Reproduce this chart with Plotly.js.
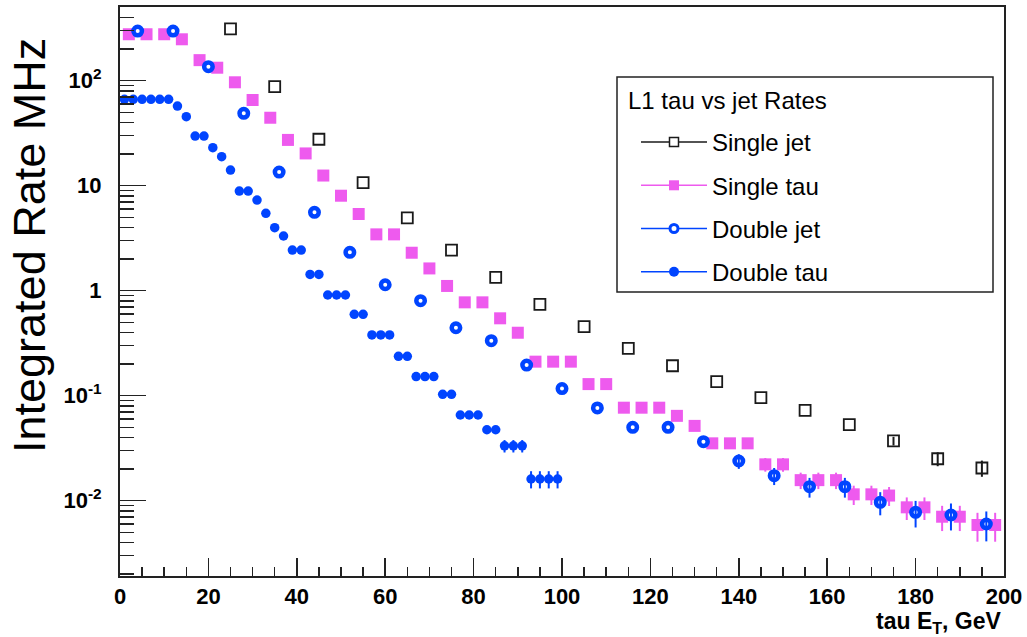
<!DOCTYPE html>
<html>
<head>
<meta charset="utf-8">
<script src="https://cdn.plot.ly/plotly-3.0.1.min.js"></script>
<style>html,body{margin:0;padding:0;background:#fff;}#chart{width:1027px;height:637px;}</style>
</head>
<body>
<div id="chart"></div>
<script>
// ---- data ----
const singleJetX = [25,35,45,55,65,75,85,95,105,115,125,135,145,155,165,175,185,195];
const singleJetY = [311,87.7,27.7,10.7,4.95,2.44,1.34,0.742,0.454,0.283,0.193,0.136,0.0957,0.0726,0.053,0.0371,0.0251,0.0205];
const singleJetErr = [0,0,0,0,0,0,0,0,0,0,0,0,0,0,0,0.0035,0.0038,0.0036];

const singleTauX = [2,6,10,14,18,22,26,30,34,38,42,46,50,54,58,62,66,70,74,78,82,86,90,94,98,102,106,110,114,118,122,126,130,134,138,142,146,150,154,158,162,166,170,174,178,182,186,190,194,198];
const singleTauY = [277,277,277,248,157,133,96.6,65.5,44.4,27.3,20.3,12.5,8.03,5.38,3.44,3.44,2.3,1.63,1.11,0.775,0.775,0.546,0.398,0.211,0.211,0.211,0.129,0.129,0.0769,0.0769,0.0769,0.0643,0.0516,0.0352,0.0352,0.0352,0.0222,0.0222,0.0157,0.0157,0.0157,0.0115,0.0115,0.0112,0.00865,0.00865,0.00704,0.00704,0.00587,0.00587];
const singleTauErr = [0,0,0,0,0,0,0,0,0,0,0,0,0,0,0,0,0,0,0,0,0,0,0,0,0,0,0,0,0,0,0,0,0,0,0,0,0.0033,0.0033,0.0028,0.0028,0.0028,0.0024,0.0024,0.0023,0.0021,0.0021,0.0019,0.0019,0.0018,0.0018];

const doubleJetX = [4,12,20,28,36,44,52,60,68,76,84,92,100,108,116,124,132,140,148,156,164,172,180,188,196];
const doubleJetY = [297,297,136,48.9,13.5,5.58,2.32,1.14,0.803,0.444,0.334,0.196,0.117,0.0765,0.05,0.05,0.0365,0.0239,0.0173,0.0136,0.0136,0.00966,0.00776,0.00731,0.006];
const doubleJetErr = [0,0,0,0,0,0,0,0,0,0,0,0,0,0,0,0,0,0.0038,0.0032,0.0029,0.0029,0.0024,0.0022,0.0021,0.0019];

const doubleTauX = [1,3,5,7,9,11,13,15,17,19,21,23,25,27,29,31,33,35,37,39,41,43,45,47,49,51,53,55,57,59,61,63,65,67,69,71,73,75,77,79,81,83,85,87,89,91,93,95,97,99];
const doubleTauY = [66.5,66.5,66.5,66.5,66.5,66.5,57.4,45.4,29.7,29.7,23.0,18.9,14.1,8.9,8.9,7.3,5.46,3.98,3.32,2.44,2.44,1.43,1.43,0.91,0.91,0.91,0.596,0.596,0.379,0.379,0.379,0.237,0.237,0.152,0.152,0.152,0.103,0.103,0.0655,0.0655,0.0655,0.0474,0.0474,0.0333,0.0333,0.0333,0.0161,0.0161,0.0161,0.0161];
const doubleTauErr = [0,0,0,0,0,0,0,0,0,0,0,0,0,0,0,0,0,0,0,0,0,0,0,0,0,0,0,0,0,0,0,0,0,0,0,0,0,0,0,0,0,0,0,0.0045,0.0045,0.0045,0.003,0.003,0.003,0.003];

const seriesNames = ['Single jet','Single tau','Double jet','Double tau'];
const legendTitle = 'L1 tau vs jet Rates';
const xTickVals = [0,20,40,60,80,100,120,140,160,180,200];
const yTickVals = [0.01,0.1,1,10,100];
const yTickText = ['10<sup>-2</sup>','10<sup>-1</sup>','1','10','10<sup>2</sup>'];
const yTitle = 'Integrated Rate MHz';
const xTitle = 'tau E<sub>T</sub>, GeV';

// ---- styles ----
const FONT = 'Liberation Sans, Arial, Helvetica, sans-serif';
const BLACK = '#1a1a1a';
const PINK = '#ee5aee';
const BLUE = '#0044ff';

const styles = [
  {color: BLACK, symbol: 'square-open', size: 11, lw: 1.8},
  {color: PINK, symbol: 'square', size: 12, lw: 0},
  {color: BLUE, symbol: 'circle-open', size: 8.5, lw: 4.5},
  {color: BLUE, symbol: 'circle', size: 9.5, lw: 0}
];
const xs = [singleJetX, singleTauX, doubleJetX, doubleTauX];
const ys = [singleJetY, singleTauY, doubleJetY, doubleTauY];
const es = [singleJetErr, singleTauErr, doubleJetErr, doubleTauErr];

const traces = [];
// draw order: single tau first, then single jet, double jet, double tau
[1,0,2,3].forEach(i => {
  const s = styles[i];
  traces.push({
    type: 'scatter', mode: 'markers', x: xs[i], y: ys[i], showlegend: false,
    name: seriesNames[i],
    marker: {color: s.color, symbol: s.symbol, size: s.size,
             line: {color: s.color, width: s.lw}},
    error_y: {type: 'data', array: es[i], visible: true, width: 0, thickness: 2, color: s.color},
    cliponaxis: true
  });
});
// legend entries (line + marker, as in the original legend)
const legendMarker = [
  {symbol: 'square', color: '#ffffff', size: 9, lc: BLACK, lw: 1.5},
  {symbol: 'square', color: PINK, size: 10, lc: PINK, lw: 0},
  {symbol: 'circle', color: '#ffffff', size: 8, lc: BLUE, lw: 3},
  {symbol: 'circle', color: BLUE, size: 10, lc: BLUE, lw: 0}
];
seriesNames.forEach((n, i) => {
  const s = styles[i], m = legendMarker[i];
  traces.push({
    type: 'scatter', mode: 'lines+markers', x: [null], y: [null], name: n,
    legendgroup: 'g' + i, showlegend: true,
    line: {color: s.color, width: 1.5},
    marker: {color: m.color, symbol: m.symbol, size: m.size, line: {color: m.lc, width: m.lw}}
  });
});

// minor y tick positions (2..9 per decade)
const minorY = [];
for (let d = -3; d <= 2; d++) for (let k = 2; k <= 9; k++) minorY.push(k * Math.pow(10, d));

// pixel helpers for placing the legend/title boxes (plot area 120..1004 x 7..576)
const PL = 120, PR = 1004, PT = 7, PB = 576;
const px2x = p => (p - PL) / (PR - PL);
const px2y = p => (PB - p) / (PB - PT);

const layout = {
  width: 1027, height: 637,
  margin: {l: 120, r: 23, t: 7, b: 61},
  paper_bgcolor: '#ffffff', plot_bgcolor: '#ffffff',
  font: {family: FONT, color: '#000'},
  showlegend: true,
  xaxis: {
    range: [0, 200], tickvals: xTickVals, ticks: 'inside', ticklen: 18, tickwidth: 1.5, tickcolor: '#222',
    showline: true, mirror: true, linewidth: 2, linecolor: '#222', showgrid: false, zeroline: false,
    tickfont: {family: FONT, size: 22, weight: 'bold', color: '#000'},
    minor: {dtick: 5, ticks: 'inside', ticklen: 9, tickwidth: 1.5, tickcolor: '#222', showgrid: false}
  },
  yaxis: {
    type: 'log', range: [-2.717, 2.702], tickvals: yTickVals, ticktext: yTickText,
    ticks: 'inside', ticklen: 26, tickwidth: 1.5, tickcolor: '#222',
    showline: true, mirror: true, linewidth: 2, linecolor: '#222', showgrid: false, zeroline: false,
    tickfont: {family: FONT, size: 22, weight: 'bold', color: '#000'}, ticklabelstandoff: 12,
    minor: {tickvals: minorY, ticks: 'inside', ticklen: 14, tickwidth: 1.5, tickcolor: '#222', showgrid: false}
  },
  legend: {
    x: px2x(636), y: px2y(120), xanchor: 'left', yanchor: 'top',
    bgcolor: 'rgba(0,0,0,0)', borderwidth: 0,
    font: {family: FONT, size: 24, color: '#000'},
    itemwidth: 66, tracegroupgap: 9, traceorder: 'grouped'
  },
  shapes: [
    {type: 'rect', xref: 'paper', yref: 'paper', x0: px2x(617), x1: px2x(993), y0: px2y(292), y1: px2y(77),
     line: {color: '#222', width: 1.5}, fillcolor: '#ffffff', layer: 'above'}
  ],
  annotations: [
    {text: legendTitle, xref: 'paper', yref: 'paper', x: px2x(626), y: px2y(100), xanchor: 'left', yanchor: 'middle',
     showarrow: false, font: {family: FONT, size: 24, color: '#000'}},
    {text: yTitle, xref: 'paper', yref: 'paper', x: px2x(30), y: px2y(246), xanchor: 'center', yanchor: 'middle',
     textangle: -90, showarrow: false, font: {family: FONT, size: 45, color: '#000'}},
    {text: xTitle, xref: 'paper', yref: 'paper', x: 1, y: px2y(622), xanchor: 'right', yanchor: 'middle',
     showarrow: false, font: {family: FONT, size: 23, weight: 'bold', color: '#000'}}
  ]
};

Plotly.newPlot('chart', traces, layout, {displayModeBar: false, staticPlot: true});
</script>
</body>
</html>
